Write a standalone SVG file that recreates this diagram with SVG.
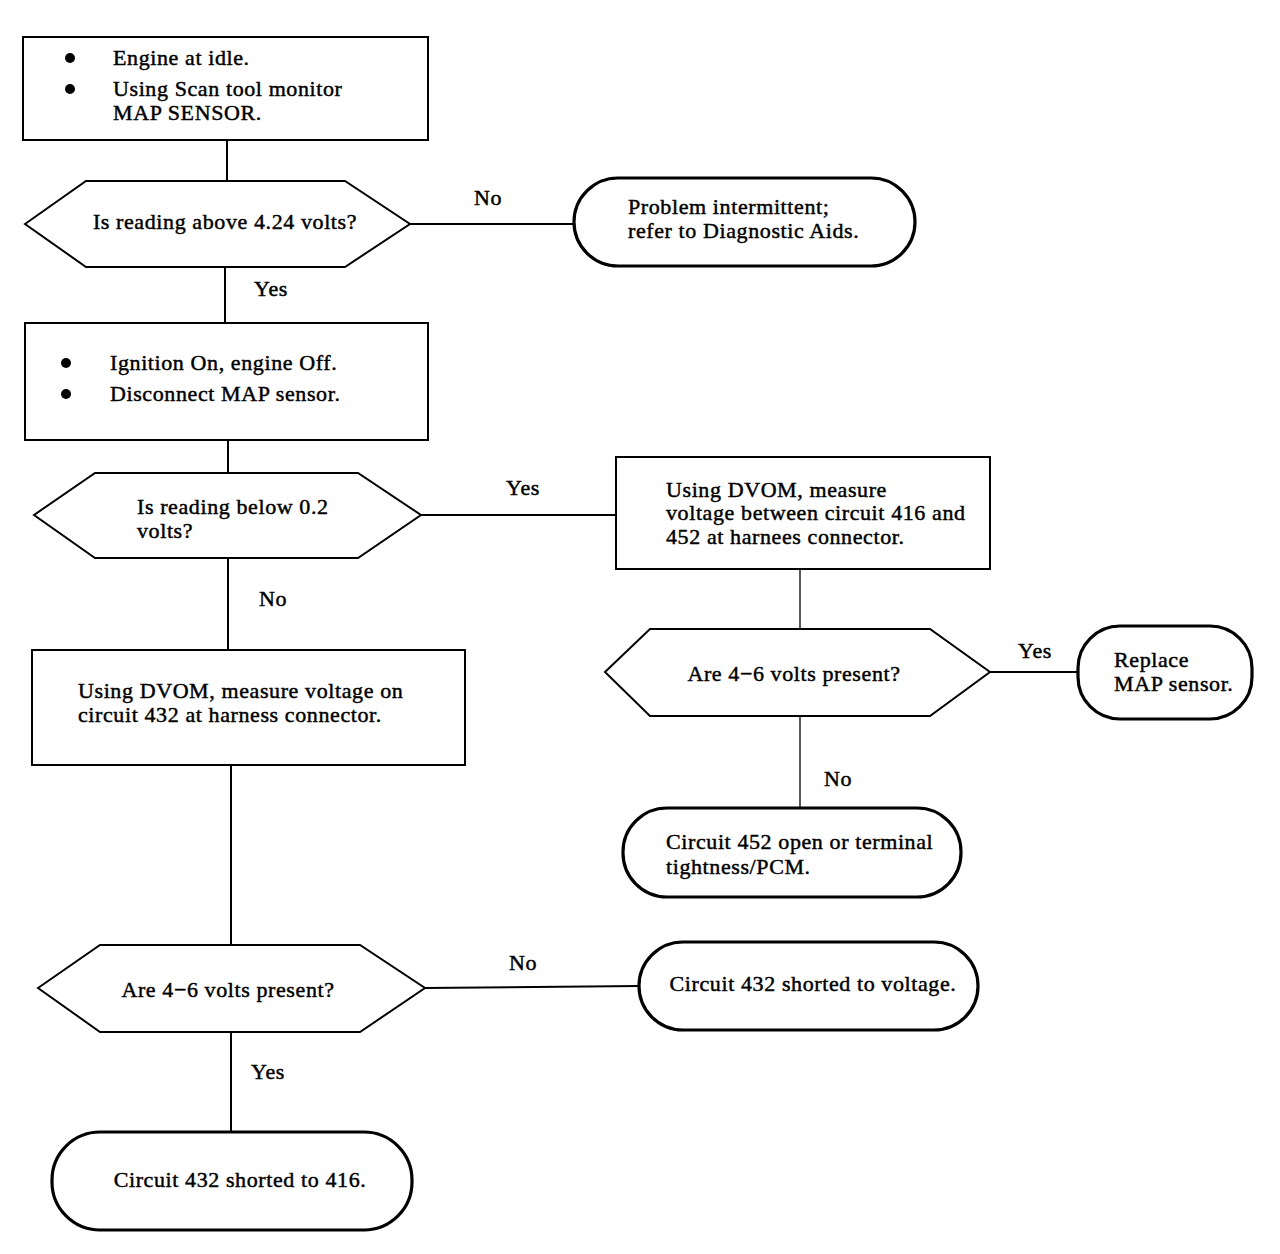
<svg xmlns="http://www.w3.org/2000/svg" width="1280" height="1254" viewBox="0 0 1280 1254">
<style>
.box{fill:#fff;stroke:#000;stroke-width:2}
.term{fill:#fff;stroke:#000;stroke-width:3.2}
.con{fill:none;stroke:#000;stroke-width:2}
.thin{fill:none;stroke:#000;stroke-width:1.3}
text{font-family:"Liberation Serif","Times New Roman",serif;font-size:22px;letter-spacing:0.6px;fill:#000;stroke:#000;stroke-width:0.45}
.c{text-anchor:middle}
</style>
<rect width="1280" height="1254" fill="#fff"/>
<g id="connectors">
<line class="con" x1="227" y1="140" x2="227" y2="181"/>
<line class="con" x1="410" y1="224" x2="574" y2="224"/>
<text x="488" y="205" class="c">No</text>
<line class="con" x1="225" y1="267" x2="225" y2="323"/>
<text x="271" y="296" class="c">Yes</text>
<line class="con" x1="228" y1="440" x2="228" y2="473"/>
<line class="con" x1="421" y1="515" x2="616" y2="515"/>
<text x="523" y="495" class="c">Yes</text>
<line class="thin" x1="800" y1="569" x2="800" y2="629"/>
<line class="con" x1="990" y1="672" x2="1078" y2="672"/>
<text x="1035" y="658" class="c">Yes</text>
<line class="thin" x1="800" y1="716" x2="800" y2="808"/>
<text x="838" y="786" class="c">No</text>
<line class="con" x1="228" y1="558" x2="228" y2="650"/>
<text x="273" y="606" class="c">No</text>
<line class="con" x1="231" y1="765" x2="231" y2="945"/>
<line class="con" x1="425" y1="988" x2="639" y2="986"/>
<text x="523" y="970" class="c">No</text>
<line class="con" x1="231" y1="1032" x2="231" y2="1132"/>
<text x="268" y="1079" class="c">Yes</text>
</g>
<g id="start">
<rect class="box" x="23" y="37" width="405" height="103"/>
<circle cx="70" cy="58" r="5"/>
<circle cx="70" cy="89" r="5"/>
<text x="113" y="65">Engine at idle.</text>
<text x="113" y="96">Using Scan tool monitor</text>
<text x="113" y="120">MAP SENSOR.</text>
</g>
<g id="q1">
<polygon class="box" points="25,224 86,181 345,181 410,224 345,267 86,267"/>
<text x="225" y="229" class="c">Is reading above 4.24 volts?</text>
</g>
<g id="t_intermittent">
<rect class="term" x="574" y="178" width="341" height="88" rx="44" ry="44"/>
<text x="628" y="214">Problem intermittent;</text>
<text x="628" y="238">refer to Diagnostic Aids.</text>
</g>
<g id="step2">
<rect class="box" x="25" y="323" width="403" height="117"/>
<circle cx="66" cy="363" r="5"/>
<circle cx="66" cy="394" r="5"/>
<text x="110" y="370">Ignition On, engine Off.</text>
<text x="110" y="401">Disconnect MAP sensor.</text>
</g>
<g id="q2">
<polygon class="box" points="34,515 95,473 358,473 421,515 358,558 95,558"/>
<text x="137" y="514">Is reading below 0.2</text>
<text x="137" y="538">volts?</text>
</g>
<g id="step3">
<rect class="box" x="616" y="457" width="374" height="112"/>
<text x="666" y="497">Using DVOM, measure</text>
<text x="666" y="520">voltage between circuit 416 and</text>
<text x="666" y="544">452 at harnees connector.</text>
</g>
<g id="q3">
<polygon class="box" points="605,672 650,629 930,629 990,672 930,716 650,716"/>
<text x="794" y="681" class="c">Are 4−6 volts present?</text>
</g>
<g id="t_replace">
<rect class="term" x="1078" y="626" width="174" height="93" rx="42" ry="42"/>
<text x="1114" y="667">Replace</text>
<text x="1114" y="691">MAP sensor.</text>
</g>
<g id="t_452">
<rect class="term" x="623" y="808" width="338" height="89" rx="44" ry="44"/>
<text x="666" y="849">Circuit 452 open or terminal</text>
<text x="666" y="874">tightness/PCM.</text>
</g>
<g id="step4">
<rect class="box" x="32" y="650" width="433" height="115"/>
<text x="78" y="698">Using DVOM, measure voltage on</text>
<text x="78" y="722">circuit 432 at harness connector.</text>
</g>
<g id="q4">
<polygon class="box" points="38,988 100,945 360,945 425,988 360,1032 100,1032"/>
<text x="228" y="997" class="c">Are 4−6 volts present?</text>
</g>
<g id="t_voltage">
<rect class="term" x="639" y="942" width="339" height="88" rx="44" ry="44"/>
<text x="813" y="991" class="c">Circuit 432 shorted to voltage.</text>
</g>
<g id="t_416">
<rect class="term" x="52" y="1132" width="360" height="98" rx="48" ry="48"/>
<text x="240" y="1187" class="c">Circuit 432 shorted to 416.</text>
</g>
</svg>
